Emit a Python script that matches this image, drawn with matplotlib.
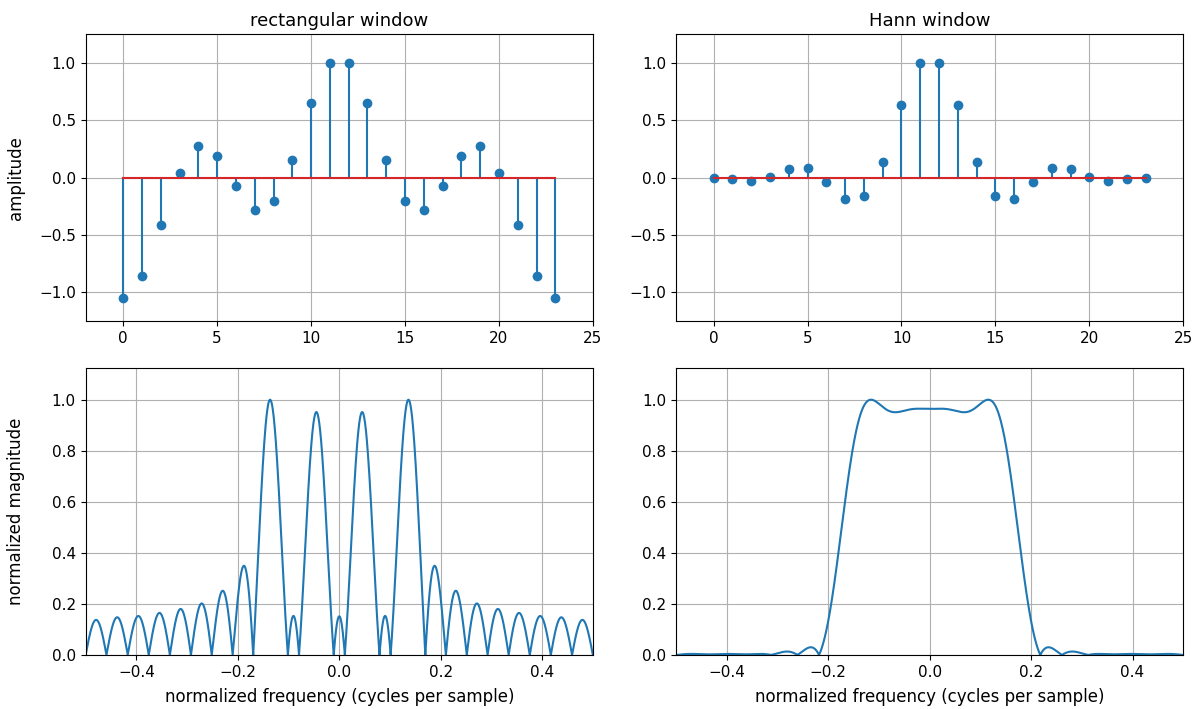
import numpy as np
import matplotlib
matplotlib.use("Agg")
import matplotlib.pyplot as plt

plt.rcParams["xtick.labelsize"] = 11
plt.rcParams["ytick.labelsize"] = 11
plt.rcParams["axes.labelsize"] = 12
plt.rcParams["axes.titlesize"] = 13

# filter taps
n = np.arange(24)

h_rect = [
    -1.05, -0.86, -0.41, 0.04, 0.28, 0.19, -0.075, -0.28,
    -0.205, 0.155, 0.652, 1.0, 1.0, 0.652, 0.155, -0.205,
    -0.28, -0.075, 0.19, 0.28, 0.04, -0.41, -0.86, -1.05,
]

h_hann = [
    0.0, -0.016, -0.028, 0.006, 0.077, 0.082, -0.036, -0.184,
    -0.162, 0.139, 0.630, 1.0, 1.0, 0.630, 0.139, -0.162,
    -0.184, -0.036, 0.082, 0.077, 0.006, -0.028, -0.016, 0.0,
]

titles = ["rectangular window", "Hann window"]

nfft = 4096


def spectrum(h):
    H = np.fft.fftshift(np.abs(np.fft.fft(h, nfft)))
    f = np.fft.fftshift(np.fft.fftfreq(nfft))
    return f, H / H.max()


fig, axes = plt.subplots(2, 2, figsize=(11.98, 7.09), dpi=100)
fig.subplots_adjust(left=0.0715, right=0.9877, top=0.9516, bottom=0.0762,
                    wspace=0.164, hspace=0.165)

for col, h in enumerate([h_rect, h_hann]):
    ax = axes[0, col]
    ax.stem(n, h)
    ax.set_xlim(-2, 25)
    ax.set_ylim(-1.25, 1.25)
    ax.set_title(titles[col])
    ax.grid(True)

    f, H = spectrum(h)
    ax = axes[1, col]
    ax.plot(f, H)
    ax.set_xlim(-0.5, 0.5)
    ax.set_ylim(0, 1.123)
    ax.set_xlabel("normalized frequency (cycles per sample)", labelpad=6)
    ax.grid(True)

axes[0, 0].set_ylabel("amplitude", labelpad=10)
axes[1, 0].set_ylabel("normalized magnitude", labelpad=10)
fig.align_ylabels(axes[:, 0])

fig.savefig("out.png")
